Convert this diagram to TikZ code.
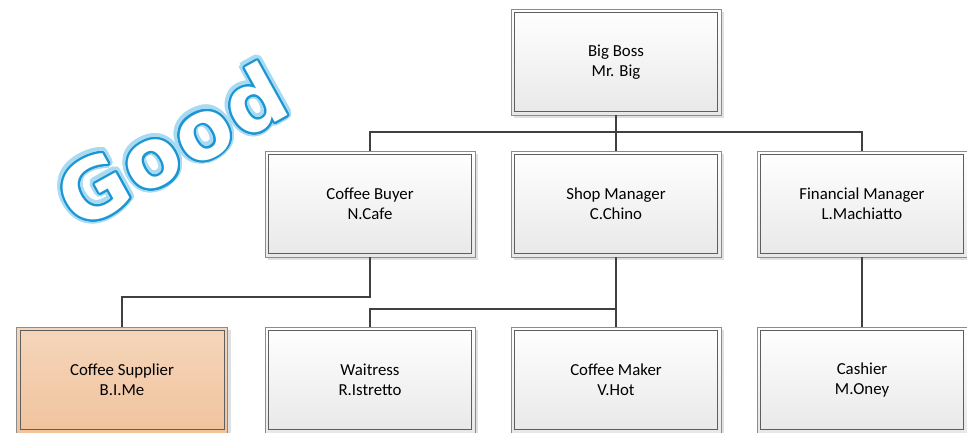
\documentclass[tikz,border=0pt]{standalone}
\usepackage{fontspec}
\setmainfont{Carlito}
\newfontfamily\goodfont{DejaVu Sans}[LetterSpace=3]
\usepackage{contour}
\usetikzlibrary{shadows}
\definecolor{outerln}{HTML}{8C8C8C}
\definecolor{innerln}{HTML}{5E5E5E}
\definecolor{conncol}{HTML}{404040}
\definecolor{goodblue}{HTML}{1A96D4}
\definecolor{goodglow}{HTML}{A8DAF2}
\definecolor{orangetop}{HTML}{F5D6BB}
\definecolor{orangebot}{HTML}{F1C39D}
\tikzset{
  orgbox/.style={rectangle, draw=outerln, line width=0.8pt, outer sep=0pt,
    minimum width=210pt, minimum height=106pt, align=center,
    font=\fontsize{16.8}{20}\selectfont, text=black,
    top color=white, bottom color=black!9,
    drop shadow={shadow xshift=3pt, shadow yshift=-3pt, fill=black!12, opacity=1},
    path picture={\draw[innerln, line width=0.9pt]
      ([shift={(3.5pt,-3.5pt)}]path picture bounding box.north west) rectangle
      ([shift={(-3.5pt,3.5pt)}]path picture bounding box.south east);}},
  orangebox/.style={orgbox, top color=orangetop, bottom color=orangebot},
  conn/.style={draw=conncol, line width=1.8pt},
  goodtext/.style={rotate=29, inner sep=0pt, font=\goodfont\bfseries\fontsize{82}{82}\selectfont}
}
\begin{document}
\begin{tikzpicture}[x=1pt, y=-1pt]
\useasboundingbox (0,0) rectangle (967,432);
\clip (0,0) rectangle (967,432);
% boxes
\node[orgbox] (bb) at (616,62) {Big Boss\\Mr. Big};
\node[orgbox] (cb) at (370,204) {Coffee Buyer\\N.Cafe};
\node[orgbox] (sm) at (616,204) {Shop Manager\\C.Chino};
\node[orgbox] (fm) at (862,204) {Financial Manager\\L.Machiatto};
\node[orangebox, minimum width=211pt] (cs) at (122,380) {Coffee Supplier\\B.I.Me};
\node[orgbox] (wt) at (370,380) {Waitress\\R.Istretto};
\node[orgbox] (cm) at (616,380) {Coffee Maker\\V.Hot};
\node[orgbox] (ca) at (862,380) {Cashier\\M.Oney};
% connectors
\coordinate (bus1) at (616,132);
\coordinate (bus2) at (370,297);
\coordinate (bus3) at (616,309);
\draw[conn] (bb.south) -- (bus1);
\draw[conn] (bus1) -- (sm.north);
\draw[conn] (bus1) -| (cb.north);
\draw[conn] (bus1) -| (fm.north);
\draw[conn] (cb.south) -- (bus2) -| (cs.north);
\draw[conn] (sm.south) -- (cm.north);
\draw[conn] (bus3) -| (wt.north);
\draw[conn] (fm.south) -- (ca.north);
% Good
\node[goodtext] (goodg) at (172,146)
  {\contourlength{5pt}\contournumber{24}\contour{goodglow}{\textcolor{goodglow}{Good}}};
\node[goodtext] (good) at (goodg.center)
  {\contourlength{2pt}\contournumber{24}\contour{goodblue}{\textcolor{white}{Good}}};
\end{tikzpicture}
\end{document}
